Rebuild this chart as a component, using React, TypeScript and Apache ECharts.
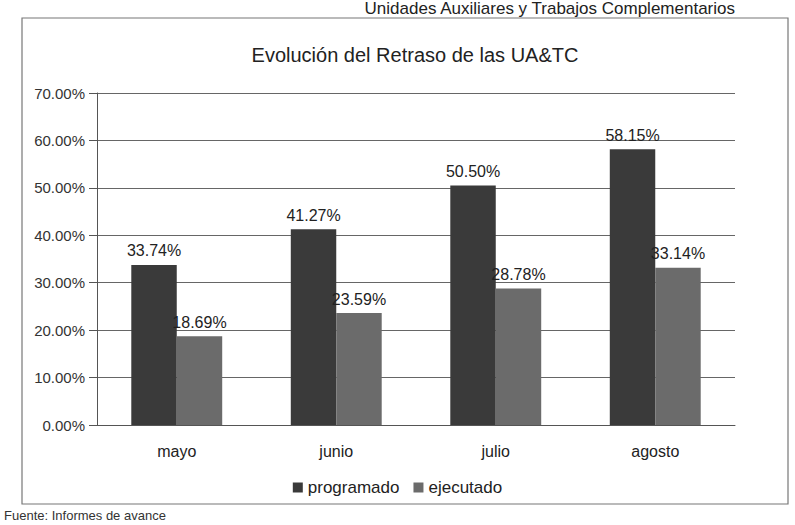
import React, { useEffect, useRef } from "react";
import * as echarts from "echarts";

const months = ["mayo", "junio", "julio", "agosto"];
const programado = [33.74, 41.27, 50.5, 58.15];
const ejecutado = [18.69, 23.59, 28.78, 33.14];

export default function App() {
  const ref = useRef<HTMLDivElement>(null);
  useEffect(() => {
    if (!ref.current) return;
    const chart = echarts.init(ref.current, null, { renderer: "svg" });
    const font = "Liberation Sans, Arial, sans-serif";
    const label = {
      show: true,
      position: "top",
      distance: 6,
      color: "#222",
      fontSize: 16,
      fontFamily: font,
      formatter: (p: any) => `${Number(p.value).toFixed(2)}%`,
    };
    chart.setOption({
      animation: false,
      backgroundColor: "#fff",
      title: {
        text: "Evolución del Retraso de las UA&TC",
        left: 410,
        textAlign: "center",
        top: 40,
        textStyle: { fontSize: 20, fontWeight: "normal", color: "#222", fontFamily: font },
      },
      graphic: [
        {
          type: "rect",
          shape: { x: 22, y: 18, width: 766, height: 486 },
          style: { fill: "none", stroke: "#777", lineWidth: 1.2 },
          silent: true,
        },
        {
          type: "text",
          x: 735,
          y: 0,
          style: {
            text: "Unidades Auxiliares y Trabajos Complementarios",
            fontSize: 17,
            fill: "#222",
            fontFamily: font,
            textAlign: "right",
          },
        },
        {
          type: "text",
          x: 4,
          y: 509,
          style: {
            text: "Fuente: Informes de avance",
            fontSize: 13,
            fill: "#333",
            fontFamily: font,
          },
        },
      ],
      legend: {
        bottom: 24,
        left: "center",
        itemWidth: 10,
        itemHeight: 10,
        itemGap: 14,
        icon: "rect",
        textStyle: { fontSize: 17, color: "#222", fontFamily: font },
        data: ["programado", "ejecutado"],
      },
      grid: { left: 97, right: 60, top: 93, bottom: 100 },
      xAxis: {
        type: "category",
        data: months,
        axisTick: { show: false },
        axisLine: { lineStyle: { color: "#555" } },
        axisLabel: { fontSize: 16, color: "#222", margin: 18, fontFamily: font },
      },
      yAxis: {
        type: "value",
        min: 0,
        max: 70,
        interval: 10,
        axisLine: { show: true, lineStyle: { color: "#555" } },
        axisTick: { show: true, length: 8, inside: false, lineStyle: { color: "#555" } },
        axisLabel: {
          fontSize: 15,
          color: "#333",
          margin: 12,
          fontFamily: font,
          formatter: (v: number) => `${v.toFixed(2)}%`,
        },
        splitLine: { lineStyle: { color: "#666", width: 1 } },
      },
      series: [
        {
          name: "programado",
          type: "bar",
          data: programado,
          barGap: "0%",
          barCategoryGap: "43%",
          itemStyle: { color: "#3a3a3a" },
          label,
        },
        {
          name: "ejecutado",
          type: "bar",
          data: ejecutado,
          itemStyle: { color: "#6b6b6b" },
          label,
        },
      ],
    });
    return () => chart.dispose();
  }, []);
  return (
    <div
      ref={ref}
      style={{ position: "fixed", left: 0, top: 0, width: 795, height: 525 }}
    />
  );
}
